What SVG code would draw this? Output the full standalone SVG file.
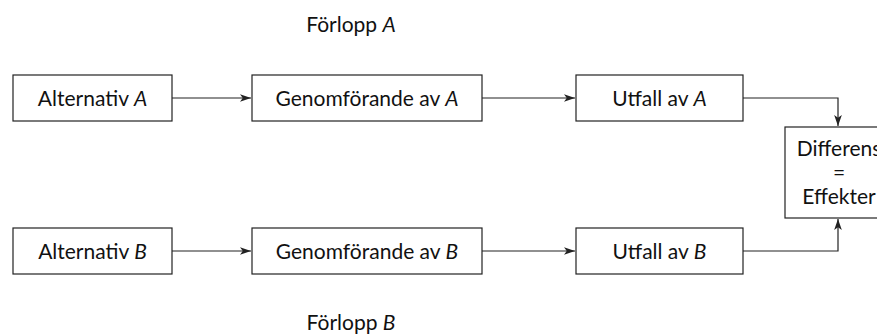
<svg xmlns="http://www.w3.org/2000/svg" width="877" height="334" viewBox="0 0 877 334">
<style>
.box{fill:#fff;stroke:#222;stroke-width:1.2}
.t{font-family:Lato,"Open Sans",sans-serif;font-size:21px;fill:#111;text-anchor:middle}
.c{fill:none;stroke:#222;stroke-width:1.2}
</style>
<defs>
<marker id="ah" viewBox="0 0 10 10" refX="10" refY="5" markerWidth="11" markerHeight="11" markerUnits="userSpaceOnUse" orient="auto">
<path d="M0,1.5 L10,5 L0,8.5 L2.5,5 Z" fill="#222"/>
</marker>
</defs>
<rect width="877" height="334" fill="#fff"/>
<text class="t" x="351" y="32">Förlopp <tspan font-style="italic">A</tspan></text>
<text class="t" x="351" y="330">Förlopp <tspan font-style="italic">B</tspan></text>
<g id="connectors">
<line class="c" x1="172" y1="98" x2="251" y2="98" marker-end="url(#ah)"/>
<line class="c" x1="482" y1="98" x2="575" y2="98" marker-end="url(#ah)"/>
<polyline class="c" points="743,98 838,98 838,126" marker-end="url(#ah)"/>
<line class="c" x1="172" y1="251" x2="251" y2="251" marker-end="url(#ah)"/>
<line class="c" x1="482" y1="251" x2="575" y2="251" marker-end="url(#ah)"/>
<polyline class="c" points="743,251 838,251 838,219" marker-end="url(#ah)"/>
</g>
<g id="altA"><rect class="box" x="13" y="75" width="159" height="46"/><text class="t" x="92.5" y="106">Alternativ <tspan font-style="italic">A</tspan></text></g>
<g id="genA"><rect class="box" x="252" y="75" width="230" height="46"/><text class="t" x="367" y="106">Genomförande av <tspan font-style="italic">A</tspan></text></g>
<g id="utA"><rect class="box" x="576" y="75" width="167" height="46"/><text class="t" x="659.5" y="106">Utfall av <tspan font-style="italic">A</tspan></text></g>
<g id="altB"><rect class="box" x="13" y="228" width="159" height="46"/><text class="t" x="92.5" y="259">Alternativ <tspan font-style="italic">B</tspan></text></g>
<g id="genB"><rect class="box" x="252" y="228" width="230" height="46"/><text class="t" x="367" y="259">Genomförande av <tspan font-style="italic">B</tspan></text></g>
<g id="utB"><rect class="box" x="576" y="228" width="167" height="46"/><text class="t" x="659.5" y="259">Utfall av <tspan font-style="italic">B</tspan></text></g>
<g id="diff"><rect class="box" x="785" y="127" width="110" height="91"/>
<text class="t" x="839" y="156">Differens</text>
<text class="t" x="839" y="180">=</text>
<text class="t" x="839" y="204">Effekter</text></g>
</svg>
